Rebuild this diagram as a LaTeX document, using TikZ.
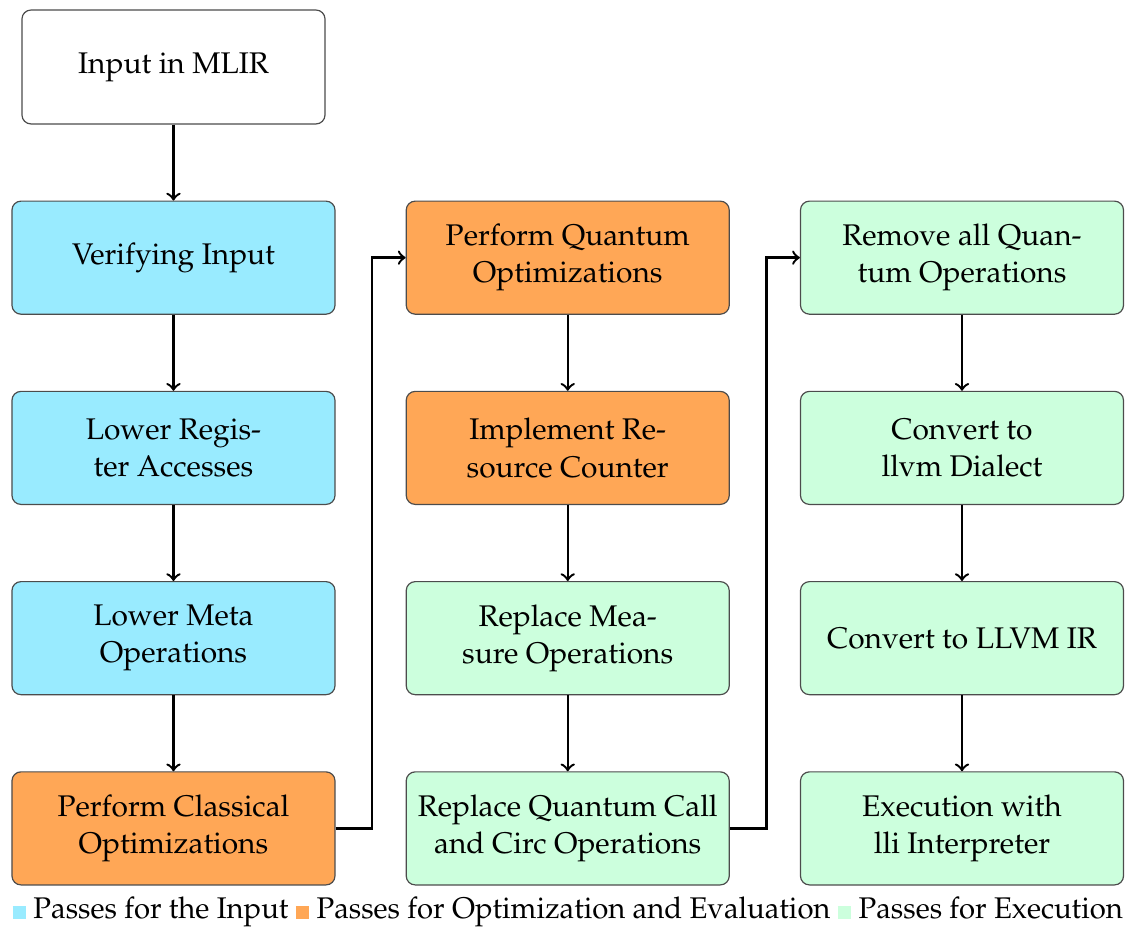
\documentclass[tikz,border=0pt]{standalone}
\usepackage[T1]{fontenc}
\usepackage{mathpazo}
\usepackage{graphicx}
\usetikzlibrary{positioning}

\definecolor{inputcol}{HTML}{99EBFF}
\definecolor{optcol}{HTML}{FFA756}
\definecolor{execcol}{HTML}{CCFFDD}

\tikzset{
  pass/.style={draw=black!70, rounded corners=3pt, align=center,
    minimum width=3.8cm, minimum height=1.33cm, inner sep=2pt,
    font=\fontsize{10}{12.5}\selectfont},
  inpass/.style={pass, fill=inputcol},
  optpass/.style={pass, fill=optcol},
  execpass/.style={pass, fill=execcol},
  flow/.style={->, thick},
  legendbox/.style={inner sep=0pt}
}
\newcommand{\legsq}[1]{\textcolor{#1}{\rule{4.6pt}{4.4pt}}}

\begin{document}
\begin{tikzpicture}[node distance=0.894cm and 0.824cm]
    \useasboundingbox (-2.041,0.788) rectangle (11.229,-10.141);
    % start
    \node (in) [pass, minimum width=3.565cm, minimum height=1.34cm] {Input in MLIR};
    % first column
    \node (verify) [inpass, below=of in] {Verifying Input};
    \node (lowreg) [inpass, below=of verify] {Lower Regis-\\ter Accesses};
    \node (lowmeta) [inpass, below=of lowreg] {Lower Meta\\Operations};
    \node (classopt) [optpass, below=of lowmeta] {Perform Classical\\Optimizations};
    % second column
    \node (quantopt) [optpass, right=of verify] {Perform Quantum\\Optimizations};
    \node (rescount) [optpass, below=of quantopt] {Implement Re-\\source Counter};
    \node (measure) [execpass, below=of rescount] {Replace Mea-\\sure Operations};
    \node (callcirc) [execpass, below=of measure] {Replace Quantum Call\\and Circ Operations};
    % third column
    \node (removeq) [execpass, right=of quantopt] {Remove all Quan-\\tum Operations};
    \node (tollvm) [execpass, below=of removeq] {Convert to\\llvm Dialect};
    \node (toir) [execpass, below=of tollvm] {Convert to LLVM IR};
    \node (lli) [execpass, below=of toir] {Execution with\\lli Interpreter};
    % arrows
    \draw [flow] (in) -- (verify);
    \draw [flow] (verify) -- (lowreg);
    \draw [flow] (lowreg) -- (lowmeta);
    \draw [flow] (lowmeta) -- (classopt);
    \draw [flow] (classopt.east) -- ++(0.43,0) |- (quantopt.west);
    \draw [flow] (quantopt) -- (rescount);
    \draw [flow] (rescount) -- (measure);
    \draw [flow] (measure) -- (callcirc);
    \draw [flow] (callcirc.east) -- ++(0.43,0) |- (removeq.west);
    \draw [flow] (removeq) -- (tollvm);
    \draw [flow] (tollvm) -- (toir);
    \draw [flow] (toir) -- (lli);
    % legend
    \node (legend) [legendbox, below=0.13cm of callcirc] {\resizebox{13.06cm}{\height}{\legsq{inputcol} Passes for the Input \legsq{optcol} Passes for Optimization and Evaluation \legsq{execcol} Passes for Execution}};
\end{tikzpicture}
\end{document}
